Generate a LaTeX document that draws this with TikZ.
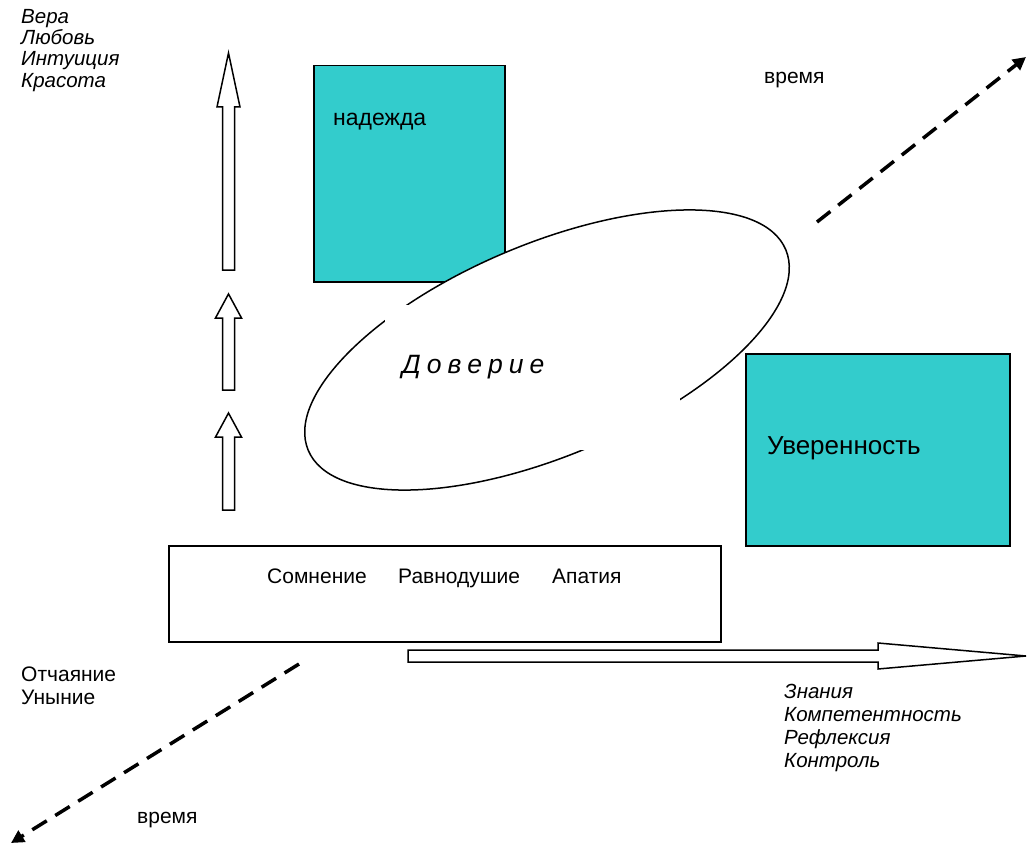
\documentclass[tikz,border=0pt]{standalone}
\usepackage{fontspec}
\setmainfont{Liberation Sans}
\usetikzlibrary{arrows.meta}
\definecolor{tealfill}{HTML}{33CCCC}
\begin{document}
\begin{tikzpicture}[x=1pt,y=-1pt,
  tealbox/.style={draw=black, line width=1.5pt, fill=tealfill, inner sep=0pt, anchor=north west},
  plainbox/.style={draw=black, line width=1.5pt, fill=white, inner sep=0pt, anchor=north west},
  blockarrow/.style={draw=black, line width=1.5pt, fill=white, line join=miter},
  timearrow/.style={line width=3.5pt, dash pattern=on 17pt off 10pt, -{Triangle[length=13pt,width=13pt]}},
  lbl/.style={anchor=base west, inner sep=0pt, font=\fontsize{21}{24}\selectfont},
  itlbl/.style={anchor=base west, inner sep=0pt, font=\itshape\fontsize{20.5}{23}\selectfont}]
\useasboundingbox (0,0) rectangle (1028,848);

% teal box "надежда"
\node[tealbox, minimum width=191pt, minimum height=216pt] (hopebox) at (313,65) {};
\node[anchor=base west, inner sep=0pt, font=\fontsize{23}{26}\selectfont] (hope) at (333,126) {надежда};

% ellipse "Доверие"
\draw[line width=1.5pt, fill=white, rotate around={22.8:(547,350)}] (547,350) ellipse [x radius=259pt, y radius=106pt];
\fill[white] (385,305) rectangle (680,450);
\node[anchor=base west, inner sep=0pt, font=\itshape\fontsize{26.5}{30}\selectfont] (trust) at (402,373)
  {Д\kern6ptо\kern6ptв\kern6ptе\kern6ptр\kern6ptи\kern6ptе};

% teal box "Уверенность"
\node[tealbox, minimum width=264pt, minimum height=192pt] (confbox) at (745,353) {};
\node[anchor=base west, inner sep=0pt, font=\fontsize{26}{30}\selectfont] (conf) at (767,454) {Уверенность};

% bottom box
\node[plainbox, minimum width=552pt, minimum height=96pt] (doubtbox) at (168,545) {};
\node[lbl] (doubt) at (267,583) {Сомнение};
\node[lbl] (indiff) at (398,583) {Равнодушие};
\node[lbl] (apathy) at (552,583) {Апатия};

% vertical block arrows
\draw[blockarrow] (222.5,270) -- (222.5,107) -- (217,107) -- (228.5,53) -- (240,107) -- (234.5,107) -- (234.5,270) -- cycle;
\draw[blockarrow] (222.5,390) -- (222.5,318) -- (215.5,318) -- (228.5,294) -- (241.5,318) -- (234.5,318) -- (234.5,390) -- cycle;
\draw[blockarrow] (222.5,510) -- (222.5,437) -- (215.5,437) -- (228.5,413) -- (241.5,437) -- (234.5,437) -- (234.5,510) -- cycle;

% horizontal block arrow
\draw[blockarrow] (408,650) -- (878,650) -- (878,643) -- (1026,656) -- (878,669) -- (878,662) -- (408,662) -- cycle;

% time arrows
\coordinate (tfs) at (817,222);
\coordinate (tfe) at (1026,57);
\draw[timearrow] (tfs) -- (tfe);
\coordinate (tps) at (299,664);
\coordinate (tpe) at (11,843);
\draw[timearrow] (tps) -- (tpe);

\node[lbl] (timeup) at (764,84) {время};
\node[lbl] (timedown) at (137,823) {время};

% left upper labels
\node[itlbl] (faith) at (21,23.3) {Вера};
\node[itlbl] (love) at (21,44.6) {Любовь};
\node[itlbl] (intu) at (21,66) {Интуиция};
\node[itlbl] (beauty) at (21,87.3) {Красота};

% despair
\node[lbl] (despair) at (21,681) {Отчаяние};
\node[lbl] (gloom) at (21,704) {Уныние};

% knowledge labels
\node[itlbl] (know) at (784,698) {Знания};
\node[itlbl] (comp) at (784,721) {Компетентность};
\node[itlbl] (refl) at (784,744) {Рефлексия};
\node[itlbl] (ctrl) at (784,767) {Контроль};
\end{tikzpicture}
\end{document}
